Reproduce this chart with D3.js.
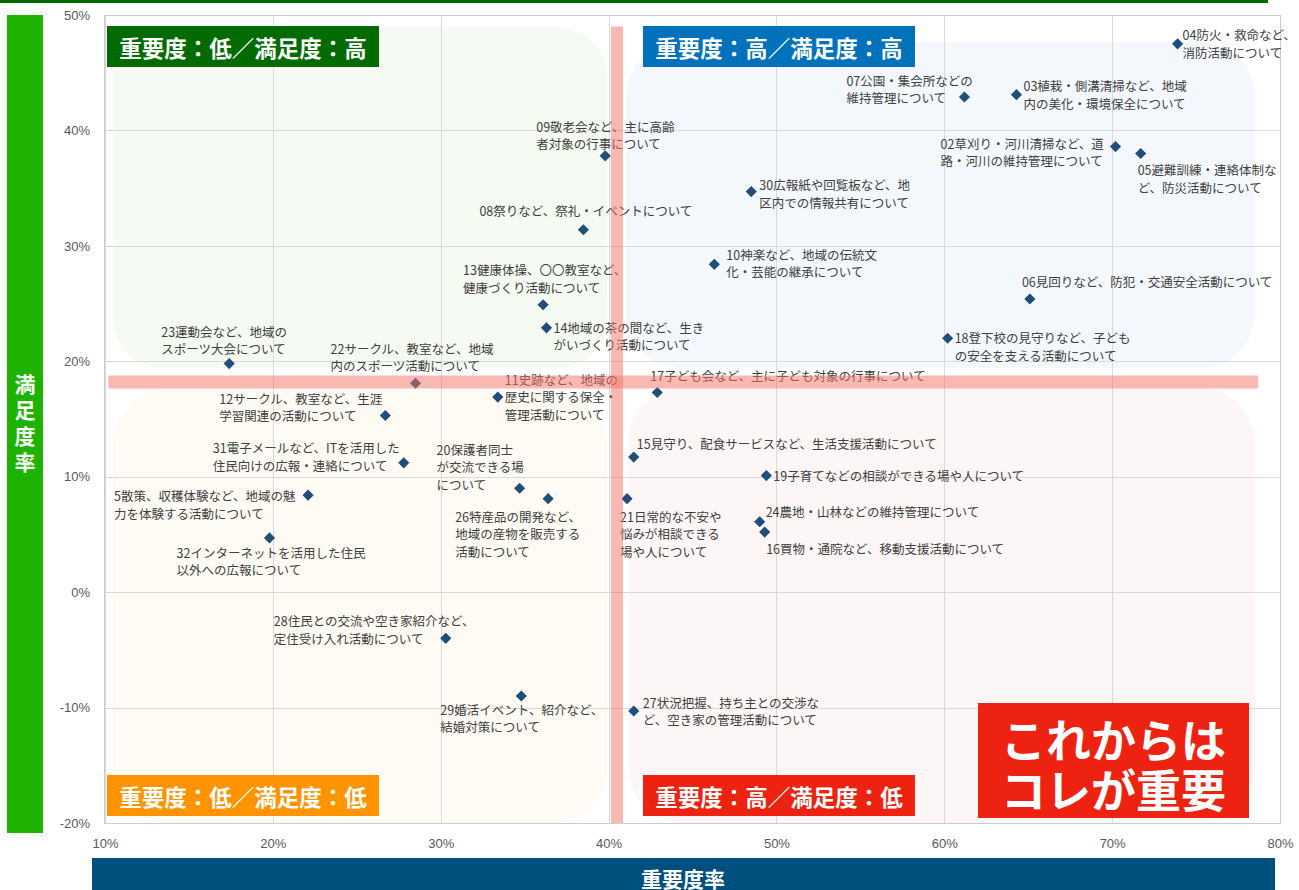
<!DOCTYPE html>
<html><head><meta charset="utf-8">
<script src="https://cdn.jsdelivr.net/npm/d3@7"></script>
<style>
html,body{margin:0;padding:0;background:#fff;overflow:hidden;}
svg{display:block;}
</style></head>
<body>
<svg id="c" width="1299" height="890"></svg>
<script>
// ---------------- data ----------------
const ids = ["02","03","04","05","06","07","08","09","10","11","12","13","14","15","16","17","18","19","20","21","22","23","24","26","27","28","29","30","31","32","5"];
const importance = [70.2,64.3,73.9,71.7,65.1,61.2,38.5,39.8,46.3,33.4,26.7,36.1,36.3,41.5,49.3,42.9,60.2,49.4,34.7,41.1,28.5,17.4,49.0,36.4,41.5,30.3,34.8,48.5,27.8,19.8,22.1];
const satisfaction = [38.6,43.1,47.5,38.0,25.4,42.9,31.4,37.8,28.4,16.9,15.3,24.9,22.9,11.7,5.2,17.3,22.0,10.1,9.0,8.1,18.1,19.8,6.1,8.1,-10.3,-4.0,-9.0,34.7,11.2,4.7,8.4];
const labels = [
 ["02草刈り・河川清掃など、道","路・河川の維持管理について"],
 ["03植栽・側溝清掃など、地域","内の美化・環境保全について"],
 ["04防火・救命など、","消防活動について"],
 ["05避難訓練・連絡体制な","ど、防災活動について"],
 ["06見回りなど、防犯・交通安全活動について"],
 ["07公園・集会所などの","維持管理について"],
 ["08祭りなど、祭礼・イベントについて"],
 ["09敬老会など、主に高齢","者対象の行事について"],
 ["10神楽など、地域の伝統文","化・芸能の継承について"],
 ["11史跡など、地域の","歴史に関する保全・","管理活動について"],
 ["12サークル、教室など、生涯","学習関連の活動について"],
 ["13健康体操、〇〇教室など、","健康づくり活動について"],
 ["14地域の茶の間など、生き","がいづくり活動について"],
 ["15見守り、配食サービスなど、生活支援活動について"],
 ["16買物・通院など、移動支援活動について"],
 ["17子ども会など、主に子ども対象の行事について"],
 ["18登下校の見守りなど、子ども","の安全を支える活動について"],
 ["19子育てなどの相談ができる場や人について"],
 ["20保護者同士","が交流できる場","について"],
 ["21日常的な不安や","悩みが相談できる","場や人について"],
 ["22サークル、教室など、地域","内のスポーツ活動について"],
 ["23運動会など、地域の","スポーツ大会について"],
 ["24農地・山林などの維持管理について"],
 ["26特産品の開発など、","地域の産物を販売する","活動について"],
 ["27状況把握、持ち主との交渉な","ど、空き家の管理活動について"],
 ["28住民との交流や空き家紹介など、","定住受け入れ活動について"],
 ["29婚活イベント、紹介など、","結婚対策について"],
 ["30広報紙や回覧板など、地","区内での情報共有について"],
 ["31電子メールなど、ITを活用した","住民向けの広報・連絡について"],
 ["32インターネットを活用した住民","以外への広報について"],
 ["5散策、収穫体験など、地域の魅","力を体験する活動について"]
];
const avgImportance = 40.5;
const avgSatisfaction = 18.2;
const xTicks = [10,20,30,40,50,60,70,80];
const yTicks = [-20,-10,0,10,20,30,40,50];
const quadrantTitles = ["重要度：低／満足度：高","重要度：高／満足度：高","重要度：低／満足度：低","重要度：高／満足度：低"];
const xTitle = "重要度率";
const yTitle = "満足度率";
const callout = ["これからは","コレが重要"];

// ---------------- layout (label offsets, px) ----------------
const labelOffset = {
 "02":[-175,-3.4],"03":[7,-9],"04":[5,-9],"05":[-3,16.3],"06":[-8,-17.3],"07":[-118,-16.5],
 "08":[-104,-19.5],"09":[-69,-29.7],"10":[12,-10],"11":[7,-17.7],"12":[-166,-17.3],"13":[-80,-35],
 "14":[7,-0.6],"15":[3,-13.4],"16":[1.5,16.7],"17":[-7,-16.6],"18":[7,-0.6],"19":[7,0],
 "20":[-83,-39],"21":[-7,17.7],"22":[-85,-35],"23":[-68,-32.3],"24":[6,-10],"26":[-93,17.7],
 "27":[9,-9],"28":[-172,-17.6],"29":[-81,13],"30":[8,-7],"31":[-191,-15],"32":[-93,14.4],"5":[-194,0.7]
};

const svg = d3.select("#c");
const L=105,R=1280,T=15,B=823;
const x = d3.scaleLinear().domain([10,80]).range([L,R]);
const y = d3.scaleLinear().domain([-20,50]).range([B,T]);
const JP = "'Noto Sans CJK JP','Noto Sans',sans-serif";

// top bar
svg.append("rect").attr("x",0).attr("y",0).attr("width",1268).attr("height",3).attr("fill","#006b00");
// left axis title bar
svg.append("rect").attr("x",7).attr("y",15).attr("width",36).attr("height",818).attr("fill","#1db300");
svg.append("text").attr("x",25).attr("y",374).style("writing-mode","vertical-rl").style("letter-spacing","5px")
  .attr("fill","#fff").attr("font-family",JP).attr("font-weight",700).attr("font-size",21).text(yTitle);
// bottom axis title bar
svg.append("rect").attr("x",92).attr("y",858).attr("width",1183).attr("height",40).attr("fill","#00507f");
svg.append("text").attr("x",683).attr("y",878).attr("dominant-baseline","central").attr("text-anchor","middle")
  .attr("fill","#fff").attr("font-family",JP).attr("font-weight",700).attr("font-size",21).text(xTitle);

// quadrant backgrounds
const bg = svg.append("g");
bg.append("rect").attr("x",113).attr("y",27).attr("width",494).attr("height",341).attr("rx",50).attr("fill","#f5faf2");
bg.append("rect").attr("x",626).attr("y",42).attr("width",629).attr("height",326).attr("rx",55).attr("fill","#f4f8fd");
bg.append("rect").attr("x",113).attr("y",391).attr("width",494).attr("height",432).attr("rx",55).attr("fill","#fefbf4");
bg.append("rect").attr("x",628).attr("y",388).attr("width",627).attr("height",435).attr("rx",55).attr("fill","#fdf6f6");

// grid
const grid = svg.append("g").attr("stroke","#d9d9d9").attr("stroke-width",1);
xTicks.forEach(v=>grid.append("line").attr("x1",Math.round(x(v))+0.5).attr("x2",Math.round(x(v))+0.5).attr("y1",T).attr("y2",B));
yTicks.forEach(v=>grid.append("line").attr("y1",Math.round(y(v))+0.5).attr("y2",Math.round(y(v))+0.5).attr("x1",L).attr("x2",R));
svg.append("rect").attr("x",L-0.5).attr("y",T+0.5).attr("width",R-L+1).attr("height",B-T).attr("fill","none").attr("stroke","#cccccc");

// axes
const fmt = d=>d+"%";
const ax = svg.append("g").attr("transform",`translate(0,${B})`).call(d3.axisBottom(x).tickValues(xTicks).tickFormat(fmt).tickSize(0).tickPadding(16));
const ay = svg.append("g").attr("transform",`translate(${L},0)`).call(d3.axisLeft(y).tickValues(yTicks).tickFormat(fmt).tickSize(0).tickPadding(15));
[ax,ay].forEach(g=>{g.select(".domain").remove();g.selectAll("text").attr("fill","#595959").attr("font-family","'Liberation Sans',Arial,sans-serif").attr("font-size",13);});

// points
const pts = ids.map((id,i)=>({id,imp:importance[i],sat:satisfaction[i],lines:labels[i]}));
const sym = d3.symbol().type(d3.symbolSquare).size(62);
svg.append("g").selectAll("path").data(pts).join("path")
  .attr("d",sym).attr("fill","#1f4e79")
  .attr("transform",d=>`translate(${x(d.imp)},${y(d.sat)}) rotate(45)`);

// labels
const lg = svg.append("g").attr("font-family",JP).attr("font-size",12.5).attr("fill","#404040");
pts.forEach(d=>{
  const o = labelOffset[d.id];
  const t = lg.append("text");
  d.lines.forEach((ln,j)=>{
    t.append("tspan").attr("x",x(d.imp)+o[0]).attr("y",y(d.sat)+o[1]+j*17.5).attr("dominant-baseline","central").text(ln);
  });
});

// average lines (on top, translucent)
svg.append("line").attr("x1",x(avgImportance)).attr("x2",x(avgImportance)).attr("y1",y(49)).attr("y2",B)
  .attr("stroke","rgb(243,113,101)").attr("stroke-opacity",0.5).attr("stroke-width",12);
svg.append("line").attr("x1",x(10.2)).attr("x2",x(78.7)).attr("y1",y(avgSatisfaction)).attr("y2",y(avgSatisfaction))
  .attr("stroke","rgb(243,113,101)").attr("stroke-opacity",0.5).attr("stroke-width",13);

// quadrant title boxes
const boxes = [
  {x:107,y:26,w:272,color:"#006b00"},
  {x:643,y:26,w:272,color:"#0071bb"},
  {x:107,y:775,w:272,color:"#ff9300"},
  {x:643,y:775,w:272,color:"#ee2211"}
];
boxes.forEach((b,i)=>{
  svg.append("rect").attr("x",b.x).attr("y",b.y).attr("width",b.w).attr("height",41).attr("fill",b.color);
  svg.append("text").attr("x",b.x+b.w/2).attr("y",b.y+21).attr("text-anchor","middle").attr("dominant-baseline","central")
    .attr("fill","#fff").attr("font-family",JP).attr("font-weight",700).attr("font-size",22.5).text(quadrantTitles[i]);
});

// callout
svg.append("rect").attr("x",978).attr("y",703).attr("width",271).attr("height",115).attr("fill","#ee2211");
svg.append("text").attr("text-anchor","middle").attr("fill","#fff").attr("font-family",JP).attr("font-weight",700).attr("font-size",45)
  .selectAll("tspan").data(callout).join("tspan")
  .attr("x",1113.5).attr("y",(d,i)=>738+i*50).attr("dominant-baseline","central").text(d=>d);
</script>
</body></html>
